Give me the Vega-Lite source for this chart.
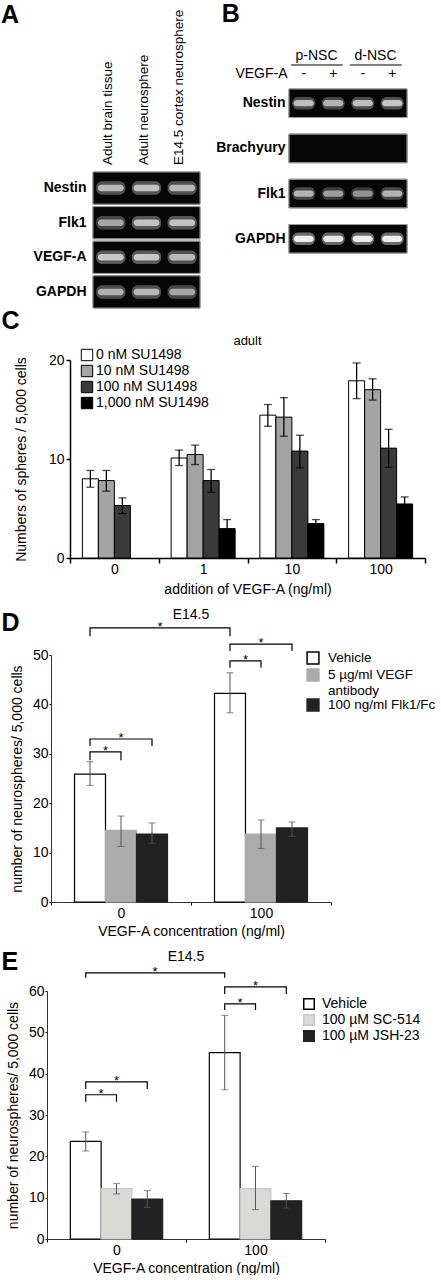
{
 "$schema": "https://vega.github.io/schema/vega-lite/v6.json",
 "padding": {"left": 0, "top": 2, "right": 0, "bottom": 0},
 "config": {
  "font": "Liberation Sans",
  "view": {"stroke": null},
  "axis": {"labelColor": "black", "titleColor": "black", "domainColor": "black", "tickColor": "black", "grid": false, "labelFont": "Liberation Sans", "titleFont": "Liberation Sans", "titleFontWeight": "normal", "labelFontWeight": "normal"},
  "legend": {"labelColor": "black", "labelFont": "Liberation Sans"},
  "title": {"color": "black", "font": "Liberation Sans"}
 },
 "resolve": {"scale": {"fill": "independent", "stroke": "independent", "xOffset": "independent", "opacity": "independent"}, "legend": {"fill": "independent", "stroke": "independent", "opacity": "independent"}},
 "datasets": {
  "spacer": [{"s": 0}],
  "gelA": [
   {"gene": "Nestin", "lane": "Adult brain tissue", "intensity": 0.75},
   {"gene": "Nestin", "lane": "Adult neurosphere", "intensity": 0.8},
   {"gene": "Nestin", "lane": "E14.5 cortex neurosphere", "intensity": 0.75},
   {"gene": "Flk1", "lane": "Adult brain tissue", "intensity": 0.65},
   {"gene": "Flk1", "lane": "Adult neurosphere", "intensity": 0.8},
   {"gene": "Flk1", "lane": "E14.5 cortex neurosphere", "intensity": 0.8},
   {"gene": "VEGF-A", "lane": "Adult brain tissue", "intensity": 0.85},
   {"gene": "VEGF-A", "lane": "Adult neurosphere", "intensity": 0.85},
   {"gene": "VEGF-A", "lane": "E14.5 cortex neurosphere", "intensity": 0.75},
   {"gene": "GAPDH", "lane": "Adult brain tissue", "intensity": 0.7},
   {"gene": "GAPDH", "lane": "Adult neurosphere", "intensity": 0.75},
   {"gene": "GAPDH", "lane": "E14.5 cortex neurosphere", "intensity": 0.65}
  ],
  "gelB": [
   {"gene": "Nestin", "lane": "L1", "intensity": 0.7},
   {"gene": "Nestin", "lane": "L2", "intensity": 0.65},
   {"gene": "Nestin", "lane": "L3", "intensity": 0.7},
   {"gene": "Nestin", "lane": "L4", "intensity": 0.75},
   {"gene": "Brachyury", "lane": "L1", "intensity": 0},
   {"gene": "Brachyury", "lane": "L2", "intensity": 0},
   {"gene": "Brachyury", "lane": "L3", "intensity": 0},
   {"gene": "Brachyury", "lane": "L4", "intensity": 0},
   {"gene": "Flk1", "lane": "L1", "intensity": 0.65},
   {"gene": "Flk1", "lane": "L2", "intensity": 0.55},
   {"gene": "Flk1", "lane": "L3", "intensity": 0.5},
   {"gene": "Flk1", "lane": "L4", "intensity": 0.65},
   {"gene": "GAPDH", "lane": "L1", "intensity": 1},
   {"gene": "GAPDH", "lane": "L2", "intensity": 0.95},
   {"gene": "GAPDH", "lane": "L3", "intensity": 1},
   {"gene": "GAPDH", "lane": "L4", "intensity": 1}
  ],
  "hdrB": [
   {"row": "grp", "lane": "L1", "lane2": "L2", "label": "p-NSC"},
   {"row": "grp", "lane": "L3", "lane2": "L4", "label": "d-NSC"},
   {"row": "sign", "lane": "L1", "label": "-"},
   {"row": "sign", "lane": "L2", "label": "+"},
   {"row": "sign", "lane": "L3", "label": "-"},
   {"row": "sign", "lane": "L4", "label": "+"}
  ],
  "C": [
   {"vegf": "0", "su": "0 nM SU1498", "mean": 8.0, "lo": 7.15, "hi": 8.84},
   {"vegf": "0", "su": "10 nM SU1498", "mean": 7.82, "lo": 6.75, "hi": 8.84},
   {"vegf": "0", "su": "100 nM SU1498", "mean": 5.3, "lo": 4.49, "hi": 6.07},
   {"vegf": "1", "su": "0 nM SU1498", "mean": 10.1, "lo": 9.34, "hi": 10.9},
   {"vegf": "1", "su": "10 nM SU1498", "mean": 10.45, "lo": 9.44, "hi": 11.4},
   {"vegf": "1", "su": "100 nM SU1498", "mean": 7.82, "lo": 6.64, "hi": 8.94},
   {"vegf": "1", "su": "1,000 nM SU1498", "mean": 2.97, "lo": 1.85, "hi": 3.88},
   {"vegf": "10", "su": "0 nM SU1498", "mean": 14.43, "lo": 13.3, "hi": 15.5},
   {"vegf": "10", "su": "10 nM SU1498", "mean": 14.23, "lo": 12.3, "hi": 16.2},
   {"vegf": "10", "su": "100 nM SU1498", "mean": 10.8, "lo": 9.1, "hi": 12.4},
   {"vegf": "10", "su": "1,000 nM SU1498", "mean": 3.47, "lo": 3.04, "hi": 3.88},
   {"vegf": "100", "su": "0 nM SU1498", "mean": 17.9, "lo": 16.1, "hi": 19.7},
   {"vegf": "100", "su": "10 nM SU1498", "mean": 17.0, "lo": 15.95, "hi": 18.1},
   {"vegf": "100", "su": "100 nM SU1498", "mean": 11.1, "lo": 9.17, "hi": 13.0},
   {"vegf": "100", "su": "1,000 nM SU1498", "mean": 5.46, "lo": 4.79, "hi": 6.17}
  ],
  "D": [
   {"vegf": "0", "trt": "Vehicle", "mean": 25.9, "lo": 23.6, "hi": 28.4},
   {"vegf": "0", "trt": "5 µg/ml VEGF antibody", "mean": 14.5, "lo": 11.25, "hi": 17.4},
   {"vegf": "0", "trt": "100 ng/ml Flk1/Fc", "mean": 13.75, "lo": 11.9, "hi": 16.0},
   {"vegf": "100", "trt": "Vehicle", "mean": 42.25, "lo": 38.3, "hi": 46.4},
   {"vegf": "100", "trt": "5 µg/ml VEGF antibody", "mean": 13.75, "lo": 10.85, "hi": 16.6},
   {"vegf": "100", "trt": "100 ng/ml Flk1/Fc", "mean": 15.0, "lo": 13.3, "hi": 16.2}
  ],
  "Dbr": [
   {"id": "top", "vegf": "0", "trt": "Vehicle", "y": 53.8, "ord": 1},
   {"id": "top", "vegf": "0", "trt": "Vehicle", "y": 55.5, "ord": 2},
   {"id": "top", "vegf": "100", "trt": "Vehicle", "y": 55.5, "ord": 3},
   {"id": "top", "vegf": "100", "trt": "Vehicle", "y": 53.8, "ord": 4},
   {"id": "ro", "vegf": "100", "trt": "Vehicle", "y": 50.8, "ord": 1},
   {"id": "ro", "vegf": "100", "trt": "Vehicle", "y": 52.2, "ord": 2},
   {"id": "ro", "vegf": "100", "trt": "100 ng/ml Flk1/Fc", "y": 52.2, "ord": 3},
   {"id": "ro", "vegf": "100", "trt": "100 ng/ml Flk1/Fc", "y": 50.8, "ord": 4},
   {"id": "ri", "vegf": "100", "trt": "Vehicle", "y": 47.4, "ord": 1},
   {"id": "ri", "vegf": "100", "trt": "Vehicle", "y": 48.8, "ord": 2},
   {"id": "ri", "vegf": "100", "trt": "5 µg/ml VEGF antibody", "y": 48.8, "ord": 3},
   {"id": "ri", "vegf": "100", "trt": "5 µg/ml VEGF antibody", "y": 47.4, "ord": 4},
   {"id": "lo", "vegf": "0", "trt": "Vehicle", "y": 31.6, "ord": 1},
   {"id": "lo", "vegf": "0", "trt": "Vehicle", "y": 33.0, "ord": 2},
   {"id": "lo", "vegf": "0", "trt": "100 ng/ml Flk1/Fc", "y": 33.0, "ord": 3},
   {"id": "lo", "vegf": "0", "trt": "100 ng/ml Flk1/Fc", "y": 31.6, "ord": 4},
   {"id": "li", "vegf": "0", "trt": "Vehicle", "y": 28.7, "ord": 1},
   {"id": "li", "vegf": "0", "trt": "Vehicle", "y": 30.4, "ord": 2},
   {"id": "li", "vegf": "0", "trt": "5 µg/ml VEGF antibody", "y": 30.4, "ord": 3},
   {"id": "li", "vegf": "0", "trt": "5 µg/ml VEGF antibody", "y": 28.7, "ord": 4}
  ],
  "Dstar": [
   {"pos": "top", "vegf": "0", "y": 55.5},
   {"pos": "mid", "vegf": "100", "y": 52.2},
   {"pos": "inner", "vegf": "100", "y": 48.8},
   {"pos": "mid", "vegf": "0", "y": 33.0},
   {"pos": "inner", "vegf": "0", "y": 30.4}
  ],
  "E": [
   {"vegf": "0", "trt": "Vehicle", "mean": 23.6, "lo": 21.3, "hi": 25.9},
   {"vegf": "0", "trt": "100 µM SC-514", "mean": 12.2, "lo": 10.9, "hi": 13.4},
   {"vegf": "0", "trt": "100 µM JSH-23", "mean": 9.66, "lo": 7.65, "hi": 11.7},
   {"vegf": "100", "trt": "Vehicle", "mean": 45.1, "lo": 36.1, "hi": 54.1},
   {"vegf": "100", "trt": "100 µM SC-514", "mean": 12.2, "lo": 7.1, "hi": 17.55},
   {"vegf": "100", "trt": "100 µM JSH-23", "mean": 9.26, "lo": 7.5, "hi": 11.0}
  ],
  "Ebr": [
   {"id": "top", "vegf": "0", "trt": "Vehicle", "y": 63.2, "ord": 1},
   {"id": "top", "vegf": "0", "trt": "Vehicle", "y": 64.4, "ord": 2},
   {"id": "top", "vegf": "100", "trt": "Vehicle", "y": 64.4, "ord": 3},
   {"id": "top", "vegf": "100", "trt": "Vehicle", "y": 63.2, "ord": 4},
   {"id": "ro", "vegf": "100", "trt": "Vehicle", "y": 59.3, "ord": 1},
   {"id": "ro", "vegf": "100", "trt": "Vehicle", "y": 61.0, "ord": 2},
   {"id": "ro", "vegf": "100", "trt": "100 µM JSH-23", "y": 61.0, "ord": 3},
   {"id": "ro", "vegf": "100", "trt": "100 µM JSH-23", "y": 59.3, "ord": 4},
   {"id": "ri", "vegf": "100", "trt": "Vehicle", "y": 55.4, "ord": 1},
   {"id": "ri", "vegf": "100", "trt": "Vehicle", "y": 56.9, "ord": 2},
   {"id": "ri", "vegf": "100", "trt": "100 µM SC-514", "y": 56.9, "ord": 3},
   {"id": "ri", "vegf": "100", "trt": "100 µM SC-514", "y": 55.4, "ord": 4},
   {"id": "lo", "vegf": "0", "trt": "Vehicle", "y": 36.3, "ord": 1},
   {"id": "lo", "vegf": "0", "trt": "Vehicle", "y": 38.0, "ord": 2},
   {"id": "lo", "vegf": "0", "trt": "100 µM JSH-23", "y": 38.0, "ord": 3},
   {"id": "lo", "vegf": "0", "trt": "100 µM JSH-23", "y": 36.3, "ord": 4},
   {"id": "li", "vegf": "0", "trt": "Vehicle", "y": 33.2, "ord": 1},
   {"id": "li", "vegf": "0", "trt": "Vehicle", "y": 34.9, "ord": 2},
   {"id": "li", "vegf": "0", "trt": "100 µM SC-514", "y": 34.9, "ord": 3},
   {"id": "li", "vegf": "0", "trt": "100 µM SC-514", "y": 33.2, "ord": 4}
  ],
  "Estar": [
   {"pos": "top", "vegf": "0", "y": 64.4},
   {"pos": "mid", "vegf": "100", "y": 61.0},
   {"pos": "inner", "vegf": "100", "y": 56.9},
   {"pos": "mid", "vegf": "0", "y": 38.0},
   {"pos": "inner", "vegf": "0", "y": 34.9}
  ]
 },
 "concat": [
  {
   "resolve": {"scale": {"fill": "independent", "stroke": "independent", "xOffset": "independent", "opacity": "independent"}, "legend": {"fill": "independent", "stroke": "independent", "opacity": "independent"}},
   "concat": [
    {
     "resolve": {"scale": {"opacity": "independent"}, "legend": {"opacity": "independent"}},
     "concat": [
      {"width": 1, "height": 1, "data": {"name": "spacer"}, "mark": {"type": "point", "opacity": 0, "size": 0}, "encoding": {}},
      {
       "resolve": {"scale": {"opacity": "independent"}, "legend": {"opacity": "independent"}},
       "concat": [
        {
         "title": {"text": "A", "anchor": "start", "frame": "bounds", "fontSize": 25, "fontWeight": "bold", "dx": -32, "dy": 22},
         "resolve": {"scale": {"opacity": "independent"}, "legend": {"opacity": "independent"}},
         "vconcat": [
          {
           "width": 107, "height": 118,
           "data": {"name": "gelA"},
           "transform": [{"filter": "datum.gene == 'Nestin'"}],
           "mark": {"type": "text", "angle": 270, "align": "left", "baseline": "middle", "fontSize": 13.5, "dx": -59, "dy": -3},
           "encoding": {
            "x": {"field": "lane", "type": "nominal", "sort": ["Adult brain tissue", "Adult neurosphere", "E14.5 cortex neurosphere"], "scale": {"paddingInner": 0, "paddingOuter": 0}, "axis": null},
            "y": {"datum": "labels", "type": "nominal", "axis": null},
            "text": {"field": "lane"}
           }
          },
          {
           "width": 107, "height": 136,
           "data": {"name": "gelA"},
           "encoding": {
            "y": {"field": "gene", "type": "nominal", "sort": ["Nestin", "Flk1", "VEGF-A", "GAPDH"], "scale": {"paddingInner": 0.07, "paddingOuter": 0}, "axis": {"title": null, "domain": false, "ticks": false, "labelFontSize": 14, "labelFontWeight": "bold", "labelPadding": 7}}
           },
           "layer": [
            {"mark": {"type": "rect", "fill": "#060606", "stroke": "#9c9c9c", "strokeWidth": 1}},
            {"mark": {"type": "rect", "width": {"band": 0.82}, "height": {"band": 0.42}, "cornerRadius": 6, "fill": "#6a6a6a"},
             "encoding": {
              "x": {"field": "lane", "type": "nominal", "sort": ["Adult brain tissue", "Adult neurosphere", "E14.5 cortex neurosphere"], "scale": {"paddingInner": 0, "paddingOuter": 0}, "axis": null},
              "opacity": {"field": "intensity", "type": "quantitative", "scale": {"domain": [0, 1], "range": [0, 1]}, "legend": null}
             }},
            {"mark": {"type": "rect", "width": {"band": 0.72}, "height": {"band": 0.2}, "cornerRadius": 3, "fill": "#dcdcdc"},
             "encoding": {
              "x": {"field": "lane", "type": "nominal", "sort": ["Adult brain tissue", "Adult neurosphere", "E14.5 cortex neurosphere"]},
              "opacity": {"field": "intensity", "type": "quantitative", "scale": {"domain": [0, 1], "range": [0, 1]}, "legend": null}
             }}
           ]
          }
         ],
         "spacing": 5
        },
        {
         "title": {"text": "B", "anchor": "start", "frame": "bounds", "fontSize": 25, "fontWeight": "bold", "dx": 6, "offset": 20},
         "resolve": {"scale": {"opacity": "independent"}, "legend": {"opacity": "independent"}},
         "vconcat": [
          {
           "width": 118, "height": 36,
           "data": {"name": "hdrB"},
           "encoding": {
            "y": {"field": "row", "type": "nominal", "sort": ["grp", "sign"], "scale": {"domain": ["grp", "sign"], "paddingInner": 0, "paddingOuter": 0}, "axis": {"title": null, "domain": false, "ticks": false, "labelFontSize": 14, "labelPadding": 2, "labelExpr": "datum.value == 'sign' ? 'VEGF-A' : ''"}}
           },
           "layer": [
            {"transform": [{"filter": "datum.row == 'grp'"}],
             "mark": {"type": "text", "fontSize": 14, "dx": -2},
             "encoding": {"x": {"field": "lane", "type": "nominal", "bandPosition": 1, "scale": {"domain": ["L1", "L2", "L3", "L4"], "paddingInner": 0, "paddingOuter": 0}, "axis": null}, "text": {"field": "label"}}},
            {"transform": [{"filter": "datum.row == 'grp'"}],
             "mark": {"type": "rule", "color": "black", "strokeWidth": 1.2},
             "encoding": {"x": {"field": "lane", "type": "nominal", "bandPosition": 0.07}, "x2": {"field": "lane2", "bandPosition": 0.82}, "y": {"field": "row", "type": "nominal", "bandPosition": 1}}},
            {"transform": [{"filter": "datum.row == 'sign'"}],
             "mark": {"type": "text", "fontSize": 14},
             "encoding": {"x": {"field": "lane", "type": "nominal"}, "text": {"field": "label"}}}
           ]
          },
          {
           "width": 118, "height": 164,
           "data": {"name": "gelB"},
           "encoding": {
            "y": {"field": "gene", "type": "nominal", "sort": ["Nestin", "Brachyury", "Flk1", "GAPDH"], "scale": {"paddingInner": 0.37, "paddingOuter": 0}, "axis": {"title": null, "domain": false, "ticks": false, "labelFontSize": 14, "labelFontWeight": "bold", "labelPadding": 4}}
           },
           "layer": [
            {"mark": {"type": "rect", "fill": "#060606", "stroke": "#9c9c9c", "strokeWidth": 1}},
            {"mark": {"type": "rect", "width": {"band": 0.78}, "height": {"band": 0.44}, "cornerRadius": 6, "fill": "#6a6a6a"},
             "encoding": {
              "x": {"field": "lane", "type": "nominal", "sort": ["L1", "L2", "L3", "L4"], "scale": {"paddingInner": 0, "paddingOuter": 0}, "axis": null},
              "opacity": {"field": "intensity", "type": "quantitative", "scale": {"domain": [0, 1], "range": [0, 1]}, "legend": null}
             }},
            {"mark": {"type": "rect", "width": {"band": 0.68}, "height": {"band": 0.22}, "cornerRadius": 4, "fill": "#eeeeee"},
             "encoding": {
              "x": {"field": "lane", "type": "nominal", "sort": ["L1", "L2", "L3", "L4"]},
              "opacity": {"field": "intensity", "type": "quantitative", "scale": {"domain": [0, 1], "range": [0, 1]}, "legend": null}
             }}
           ]
          }
         ],
         "spacing": 5
        }
       ],
       "columns": 2, "spacing": 14, "align": "none"
      }
     ],
     "columns": 2, "spacing": 0, "align": "none"
    },
    {
     "resolve": {"scale": {"fill": "independent", "stroke": "independent", "xOffset": "independent"}, "legend": {"fill": "independent", "stroke": "independent"}},
     "concat": [
      {"width": 1, "height": 1, "data": {"name": "spacer"}, "mark": {"type": "point", "opacity": 0, "size": 0}, "encoding": {}},
      {
       "title": {"text": "C", "anchor": "start", "frame": "bounds", "fontSize": 25, "fontWeight": "bold", "dx": -13, "offset": 1},
       "resolve": {"scale": {"fill": "independent", "stroke": "independent", "xOffset": "independent"}, "legend": {"fill": "independent", "stroke": "independent"}},
       "vconcat": [
        {
         "title": {"text": "adult", "fontSize": 13, "fontWeight": "normal", "anchor": "middle", "offset": 0},
         "width": 355, "height": 198,
         "data": {"name": "C"},
         "encoding": {
          "x": {"field": "vegf", "type": "nominal", "sort": ["0", "1", "10", "100"], "scale": {"paddingInner": 0, "paddingOuter": 0}, "axis": {"title": "addition of VEGF-A (ng/ml)", "titleFontSize": 14, "labelFontSize": 14, "labelAngle": 0, "tickBand": "extent", "tickSize": 5, "domainWidth": 1.5, "tickWidth": 1.5, "labelPadding": -1, "titlePadding": 6}},
          "xOffset": {"field": "su", "type": "nominal", "sort": ["0 nM SU1498", "10 nM SU1498", "100 nM SU1498", "1,000 nM SU1498"], "scale": {"domain": ["0 nM SU1498", "10 nM SU1498", "100 nM SU1498", "1,000 nM SU1498"], "paddingInner": 0, "paddingOuter": 0.773}}
         },
         "layer": [
          {"mark": {"type": "bar", "stroke": "black", "strokeWidth": 1},
           "encoding": {
            "y": {"field": "mean", "type": "quantitative", "scale": {"domain": [0, 20], "nice": false}, "axis": {"title": "Numbers of spheres / 5,000 cells", "titleFontSize": 14, "labelFontSize": 14, "values": [0, 10, 20], "tickSize": 4, "labelPadding": 2, "titlePadding": 20, "domainWidth": 1.5, "tickWidth": 1.5}},
            "fill": {"field": "su", "type": "nominal", "scale": {"domain": ["0 nM SU1498", "10 nM SU1498", "100 nM SU1498", "1,000 nM SU1498"], "range": ["#ffffff", "#a4a4a4", "#3a3a3a", "#000000"]}, "legend": {"title": null, "orient": "none", "legendX": 10, "legendY": -12, "symbolType": "square", "symbolSize": 130, "symbolStrokeColor": "black", "symbolStrokeWidth": 1, "labelFontSize": 14, "labelOffset": 2, "rowPadding": 0}}
           }},
          {"mark": {"type": "rule", "color": "black", "strokeWidth": 1.3},
           "encoding": {"y": {"field": "lo", "type": "quantitative"}, "y2": {"field": "hi"}}},
          {"mark": {"type": "tick", "orient": "horizontal", "size": 8, "thickness": 1.3, "color": "black"},
           "encoding": {"y": {"field": "lo", "type": "quantitative"}}},
          {"mark": {"type": "tick", "orient": "horizontal", "size": 8, "thickness": 1.3, "color": "black"},
           "encoding": {"y": {"field": "hi", "type": "quantitative"}}}
         ]
        }
       ]
      }
     ],
     "columns": 2, "spacing": 0, "align": "none"
    }
   ],
   "columns": 1, "spacing": 0, "align": "none"
  },
  {
   "resolve": {"scale": {"fill": "independent", "stroke": "independent", "xOffset": "independent"}, "legend": {"fill": "independent", "stroke": "independent"}},
   "concat": [
    {"width": 1, "height": 1, "data": {"name": "spacer"}, "mark": {"type": "point", "opacity": 0, "size": 0}, "encoding": {}},
    {
     "title": {"text": "D", "anchor": "start", "frame": "bounds", "fontSize": 25, "fontWeight": "bold", "dx": -9, "dy": 32},
     "resolve": {"scale": {"fill": "independent", "stroke": "independent", "xOffset": "independent"}, "legend": {"fill": "independent", "stroke": "independent"}},
     "vconcat": [
      {
       "title": {"text": "E14.5", "fontSize": 14, "fontWeight": "normal", "anchor": "middle", "offset": -1},
       "width": 280, "height": 247,
       "encoding": {
        "x": {"field": "vegf", "type": "nominal", "sort": ["0", "100"], "scale": {"domain": ["0", "100"], "paddingInner": 0, "paddingOuter": 0}, "axis": {"title": "VEGF-A concentration (ng/ml)", "titleFontSize": 14, "labelFontSize": 14, "labelAngle": 0, "tickBand": "extent", "tickSize": 3, "domainColor": "#333", "labelPadding": 1, "titlePadding": 4}}
       },
       "layer": [
        {"data": {"name": "D"},
         "mark": {"type": "bar", "strokeWidth": 1.2},
         "encoding": {
          "xOffset": {"field": "trt", "type": "nominal", "scale": {"domain": ["Vehicle", "5 µg/ml VEGF antibody", "100 ng/ml Flk1/Fc"], "paddingInner": 0, "paddingOuter": 0.758}},
          "y": {"field": "mean", "type": "quantitative", "scale": {"domain": [0, 50], "nice": false}, "axis": {"title": "number of neurospheres/ 5,000 cells", "titleFontSize": 14, "labelFontSize": 14, "values": [0, 10, 20, 30, 40, 50], "tickSize": 2, "labelPadding": 1, "titlePadding": 8, "domainColor": "#333"}},
          "fill": {"field": "trt", "type": "nominal", "scale": {"domain": ["Vehicle", "5 µg/ml VEGF antibody", "100 ng/ml Flk1/Fc"], "range": ["#ffffff", "#ababab", "#222222"]}, "legend": {"title": null, "orient": "none", "legendX": 255, "legendY": -4, "symbolType": "square", "symbolSize": 140, "labelFontSize": 13.5, "labelOffset": 8, "rowPadding": -1, "labelExpr": "datum.label == '5 µg/ml VEGF antibody' ? ['5 µg/ml VEGF', 'antibody'] : datum.label"}},
          "stroke": {"field": "trt", "type": "nominal", "scale": {"domain": ["Vehicle", "5 µg/ml VEGF antibody", "100 ng/ml Flk1/Fc"], "range": ["#000000", "#ababab", "#222222"]}, "legend": null}
         }},
        {"data": {"name": "D"},
         "mark": {"type": "rule", "color": "#555555", "strokeWidth": 1},
         "encoding": {"xOffset": {"field": "trt", "type": "nominal", "scale": {"domain": ["Vehicle", "5 µg/ml VEGF antibody", "100 ng/ml Flk1/Fc"]}}, "y": {"field": "lo", "type": "quantitative"}, "y2": {"field": "hi"}}},
        {"data": {"name": "D"},
         "mark": {"type": "tick", "orient": "horizontal", "size": 7, "thickness": 1, "color": "#555555"},
         "encoding": {"xOffset": {"field": "trt", "type": "nominal", "scale": {"domain": ["Vehicle", "5 µg/ml VEGF antibody", "100 ng/ml Flk1/Fc"]}}, "y": {"field": "lo", "type": "quantitative"}}},
        {"data": {"name": "D"},
         "mark": {"type": "tick", "orient": "horizontal", "size": 7, "thickness": 1, "color": "#555555"},
         "encoding": {"xOffset": {"field": "trt", "type": "nominal", "scale": {"domain": ["Vehicle", "5 µg/ml VEGF antibody", "100 ng/ml Flk1/Fc"]}}, "y": {"field": "hi", "type": "quantitative"}}},
        {"data": {"name": "Dbr"},
         "mark": {"type": "line", "color": "black", "strokeWidth": 1.2},
         "encoding": {"xOffset": {"field": "trt", "type": "nominal", "scale": {"domain": ["Vehicle", "5 µg/ml VEGF antibody", "100 ng/ml Flk1/Fc"]}}, "y": {"field": "y", "type": "quantitative"}, "detail": {"field": "id"}, "order": {"field": "ord", "type": "quantitative"}}},
        {"data": {"name": "Dstar"}, "transform": [{"filter": "datum.pos == 'mid'"}],
         "mark": {"type": "text", "text": "*", "fontSize": 13, "baseline": "alphabetic", "dy": 3},
         "encoding": {"y": {"field": "y", "type": "quantitative"}}},
        {"data": {"name": "Dstar"}, "transform": [{"filter": "datum.pos == 'inner'"}],
         "mark": {"type": "text", "text": "*", "fontSize": 13, "baseline": "alphabetic", "dy": 3},
         "encoding": {"x": {"field": "vegf", "type": "nominal", "bandPosition": 0.389}, "y": {"field": "y", "type": "quantitative"}}},
        {"data": {"name": "Dstar"}, "transform": [{"filter": "datum.pos == 'top'"}],
         "mark": {"type": "text", "text": "*", "fontSize": 13, "baseline": "alphabetic", "dy": 3},
         "encoding": {"x": {"field": "vegf", "type": "nominal", "bandPosition": 0.779}, "y": {"field": "y", "type": "quantitative"}}}
       ]
      }
     ]
    }
   ],
   "columns": 2, "spacing": 0, "align": "none"
  },
  {
   "resolve": {"scale": {"fill": "independent", "stroke": "independent", "xOffset": "independent"}, "legend": {"fill": "independent", "stroke": "independent"}},
   "concat": [
    {"width": 1, "height": 1, "data": {"name": "spacer"}, "mark": {"type": "point", "opacity": 0, "size": 0}, "encoding": {}},
    {
     "title": {"text": "E", "anchor": "start", "frame": "bounds", "fontSize": 25, "fontWeight": "bold", "dx": -5, "dy": 29},
     "resolve": {"scale": {"fill": "independent", "stroke": "independent", "xOffset": "independent"}, "legend": {"fill": "independent", "stroke": "independent"}},
     "vconcat": [
      {
       "title": {"text": "E14.5", "fontSize": 14, "fontWeight": "normal", "anchor": "middle", "offset": 2},
       "width": 278, "height": 248,
       "encoding": {
        "x": {"field": "vegf", "type": "nominal", "sort": ["0", "100"], "scale": {"domain": ["0", "100"], "paddingInner": 0, "paddingOuter": 0}, "axis": {"title": "VEGF-A concentration (ng/ml)", "titleFontSize": 14, "labelFontSize": 14, "labelAngle": 0, "tickBand": "extent", "tickSize": 3, "domainColor": "#333", "labelPadding": 1, "titlePadding": 4}}
       },
       "layer": [
        {"data": {"name": "E"},
         "mark": {"type": "bar", "strokeWidth": 1.2},
         "encoding": {
          "xOffset": {"field": "trt", "type": "nominal", "scale": {"domain": ["Vehicle", "100 µM SC-514", "100 µM JSH-23"], "paddingInner": 0, "paddingOuter": 0.758}},
          "y": {"field": "mean", "type": "quantitative", "scale": {"domain": [0, 60], "nice": false}, "axis": {"title": "number of neurospheres/ 5,000 cells", "titleFontSize": 14, "labelFontSize": 14, "values": [0, 10, 20, 30, 40, 50, 60], "tickSize": 2, "labelPadding": 1, "titlePadding": 8, "domainColor": "#333"}},
          "fill": {"field": "trt", "type": "nominal", "scale": {"domain": ["Vehicle", "100 µM SC-514", "100 µM JSH-23"], "range": ["#ffffff", "#d9dad5", "#222222"]}, "legend": {"title": null, "orient": "none", "legendX": 255, "legendY": 6, "symbolType": "square", "symbolSize": 110, "labelFontSize": 14, "labelOffset": 6, "rowPadding": -4}},
          "stroke": {"field": "trt", "type": "nominal", "scale": {"domain": ["Vehicle", "100 µM SC-514", "100 µM JSH-23"], "range": ["#000000", "#c8c9c4", "#222222"]}, "legend": null}
         }},
        {"data": {"name": "E"},
         "mark": {"type": "rule", "color": "#555555", "strokeWidth": 1},
         "encoding": {"xOffset": {"field": "trt", "type": "nominal", "scale": {"domain": ["Vehicle", "100 µM SC-514", "100 µM JSH-23"]}}, "y": {"field": "lo", "type": "quantitative"}, "y2": {"field": "hi"}}},
        {"data": {"name": "E"},
         "mark": {"type": "tick", "orient": "horizontal", "size": 7, "thickness": 1, "color": "#555555"},
         "encoding": {"xOffset": {"field": "trt", "type": "nominal", "scale": {"domain": ["Vehicle", "100 µM SC-514", "100 µM JSH-23"]}}, "y": {"field": "lo", "type": "quantitative"}}},
        {"data": {"name": "E"},
         "mark": {"type": "tick", "orient": "horizontal", "size": 7, "thickness": 1, "color": "#555555"},
         "encoding": {"xOffset": {"field": "trt", "type": "nominal", "scale": {"domain": ["Vehicle", "100 µM SC-514", "100 µM JSH-23"]}}, "y": {"field": "hi", "type": "quantitative"}}},
        {"data": {"name": "Ebr"},
         "mark": {"type": "line", "color": "black", "strokeWidth": 1.2},
         "encoding": {"xOffset": {"field": "trt", "type": "nominal", "scale": {"domain": ["Vehicle", "100 µM SC-514", "100 µM JSH-23"]}}, "y": {"field": "y", "type": "quantitative"}, "detail": {"field": "id"}, "order": {"field": "ord", "type": "quantitative"}}},
        {"data": {"name": "Estar"}, "transform": [{"filter": "datum.pos == 'mid'"}],
         "mark": {"type": "text", "text": "*", "fontSize": 13, "baseline": "alphabetic", "dy": 3},
         "encoding": {"y": {"field": "y", "type": "quantitative"}}},
        {"data": {"name": "Estar"}, "transform": [{"filter": "datum.pos == 'inner'"}],
         "mark": {"type": "text", "text": "*", "fontSize": 13, "baseline": "alphabetic", "dy": 3},
         "encoding": {"x": {"field": "vegf", "type": "nominal", "bandPosition": 0.389}, "y": {"field": "y", "type": "quantitative"}}},
        {"data": {"name": "Estar"}, "transform": [{"filter": "datum.pos == 'top'"}],
         "mark": {"type": "text", "text": "*", "fontSize": 13, "baseline": "alphabetic", "dy": 3},
         "encoding": {"x": {"field": "vegf", "type": "nominal", "bandPosition": 0.777}, "y": {"field": "y", "type": "quantitative"}}}
       ]
      }
     ]
    }
   ],
   "columns": 2, "spacing": 0, "align": "none"
  }
 ],
 "columns": 1,
 "spacing": 11,
 "align": "none"
}
